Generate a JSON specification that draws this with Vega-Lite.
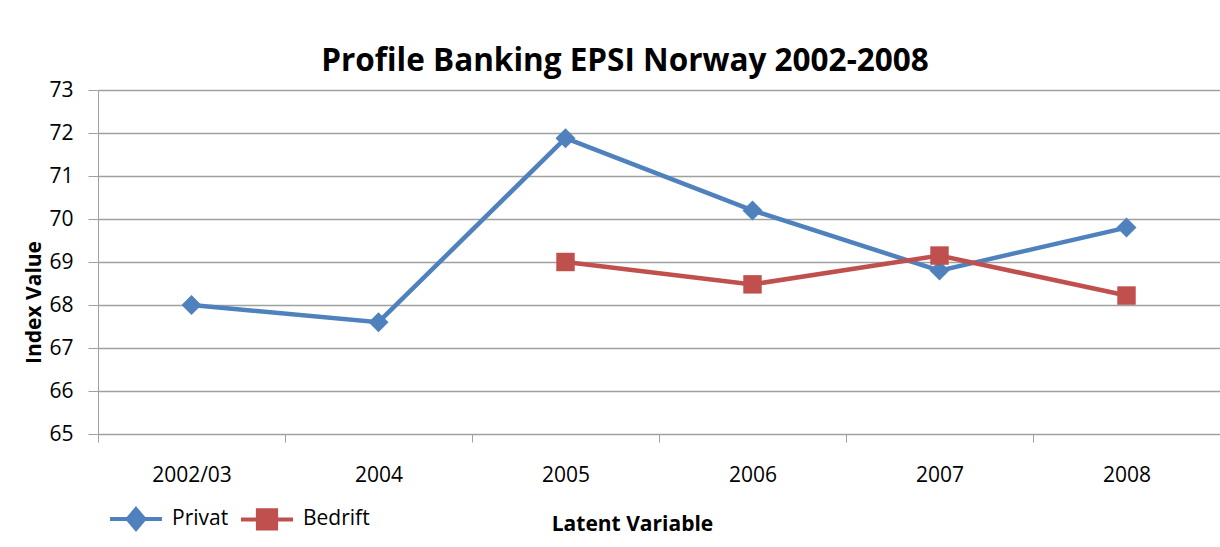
{
  "$schema": "https://vega.github.io/schema/vega-lite/v6.json",
  "width": 1122,
  "height": 344,
  "autosize": {"type": "none"},
  "padding": {"left": 98, "top": 90, "right": 0, "bottom": 113},
  "background": "white",
  "title": {"text": "Profile Banking EPSI Norway 2002-2008", "font": "Open Sans", "fontSize": 31.5, "fontWeight": "bold", "color": "#000000", "anchor": "middle", "dx": -34, "offset": 2},
  "config": {"view": {"stroke": null}, "font": "Open Sans"},
  "data": {"values": [
    {"year": "2002/03", "series": "Privat", "value": 68.0},
    {"year": "2004", "series": "Privat", "value": 67.6},
    {"year": "2005", "series": "Privat", "value": 71.88},
    {"year": "2006", "series": "Privat", "value": 70.2},
    {"year": "2007", "series": "Privat", "value": 68.8},
    {"year": "2008", "series": "Privat", "value": 69.8},
    {"year": "2005", "series": "Bedrift", "value": 69.0},
    {"year": "2006", "series": "Bedrift", "value": 68.48},
    {"year": "2007", "series": "Bedrift", "value": 69.15},
    {"year": "2008", "series": "Bedrift", "value": 68.22}
  ]},
  "encoding": {
    "x": {
      "field": "year", "type": "ordinal",
      "scale": {"type": "band", "domain": ["2002/03", "2004", "2005", "2006", "2007", "2008"], "paddingInner": 0, "paddingOuter": 0},
      "bandPosition": 0.5,
      "axis": {
        "title": "Latent Variable", "titleFont": "Open Sans", "titleFontSize": 21, "titleFontWeight": "bold", "titleColor": "#000000",
        "titleX": 534, "titleY": 90, "titleBaseline": "middle", "titleAnchor": null, "titleAlign": "center",
        "labelAngle": 0, "labelFont": "Open Sans", "labelFontSize": 21, "labelColor": "#000000", "labelBaseline": "middle", "labelPadding": 33,
        "tickBand": "extent", "tickSize": 8, "tickColor": "#a0a0a0", "domainColor": "#a0a0a0", "grid": false
      }
    },
    "y": {
      "field": "value", "type": "quantitative",
      "scale": {"domain": [65, 73], "nice": false, "zero": false},
      "axis": {
        "title": "Index Value", "titleFont": "Open Sans", "titleFontSize": 21, "titleFontWeight": "bold", "titleColor": "#000000",
        "titleX": -64, "titleY": 212, "titleAngle": -90, "titleBaseline": "middle", "titleAlign": "center", "titleAnchor": null,
        "values": [65, 66, 67, 68, 69, 70, 71, 72, 73],
        "labelFont": "Open Sans", "labelFontSize": 21, "labelColor": "#000000", "labelPadding": 15,
        "tickSize": 10, "tickColor": "#a0a0a0", "domainColor": "#a0a0a0",
        "grid": true, "gridColor": "#a0a0a0", "gridWidth": 1.3
      }
    },
    "color": {
      "field": "series", "type": "nominal",
      "scale": {"domain": ["Privat", "Bedrift"], "range": ["#4F81BD", "#C0504D"]},
      "legend": {
        "title": null, "orient": "none", "legendX": 10, "legendY": 401, "direction": "horizontal",
        "symbolSize": 2704, "symbolStrokeWidth": 4, "labelFont": "Open Sans", "labelFontSize": 21, "labelColor": "#000000",
        "labelOffset": 8, "columnPadding": 4,
        "encode": {
          "symbols": {
            "update": {
              "shape": {"signal": "datum.value === 'Privat' ? 'M-1,0H1M0,-0.38L0.32,0L0,0.38L-0.32,0Z' : 'M-1,0H1M-0.35,-0.35H0.35V0.35H-0.35Z'"},
              "fill": {"scale": "color", "field": "value"},
              "stroke": {"scale": "color", "field": "value"},
              "strokeWidth": {"value": 4},
              "opacity": {"value": 1}
            }
          }
        }
      }
    }
  },
  "layer": [
    {"mark": {"type": "line", "strokeWidth": 4.5}},
    {
      "transform": [{"filter": "datum.series === 'Privat'"}],
      "mark": {"type": "point", "shape": "diamond", "filled": true, "opacity": 1, "size": 400}
    },
    {
      "transform": [{"filter": "datum.series === 'Bedrift'"}],
      "mark": {"type": "point", "shape": "square", "filled": true, "opacity": 1, "size": 340}
    }
  ]
}
